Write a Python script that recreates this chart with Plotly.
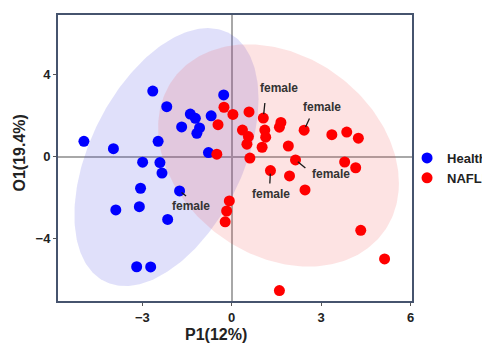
import numpy as np
import plotly.graph_objects as go

# ---------------- data ----------------
health_p1 = [-2.65, -0.27, -2.18, -1.39, -1.22, -0.69, -1.68, -1.08, -1.17, -4.96,
             -3.97, -2.47, -0.78, -2.99, -2.41, -2.34, -3.06, -1.75, -3.89, -3.10,
             -2.15, -3.19, -2.72]
health_o1 = [3.20, 3.01, 2.44, 2.08, 1.87, 1.99, 1.45, 1.40, 1.14, 0.75,
             0.39, 0.75, 0.20, -0.27, -0.29, -0.80, -1.54, -1.67, -2.60, -2.44,
             -3.06, -5.37, -5.38]

nafld_p1 = [-0.26, 0.04, 0.58, 1.06, -0.46, 0.36, 0.56, 0.51, 1.11, 1.14,
            1.02, 1.65, 1.60, 2.43, 1.90, 3.36, 3.86, 4.25, -0.50, 0.61,
            2.14, 3.79, 4.16, 1.30, 1.94, 2.46, -0.08, -0.17, -0.22, 4.33,
            5.13, 1.60]
nafld_o1 = [2.41, 2.06, 2.18, 1.88, 1.56, 1.30, 0.98, 0.61, 1.30, 0.95,
            0.46, 1.67, 1.44, 1.29, 0.52, 1.07, 1.20, 0.90, 0.12, -0.07,
            -0.16, -0.26, -0.54, -0.68, -0.94, -1.62, -2.16, -2.65, -3.18, -3.59,
            -4.99, -6.53]

group_names = ["Health", "NAFLD"]
x_ticks = [-3, 0, 3, 6]
y_ticks = [-4, 0, 4]
x_title = "P1(12%)"
y_title = "O1(19.4%)"
note_text = "female"

# samples labelled "female": (group, index) with (line tail dx, dy, standoff, text dx, dy) in px
female_notes = [
    ("Health", 17, 8, 6.3, 2.5, 11.4, -15.3),
    ("NAFLD", 3, 1.7, -16.6, 4, 16, 30.6),
    ("NAFLD", 13, 6, -13.3, 3.5, 17.7, 23.3),
    ("NAFLD", 20, 11.4, 9.3, 3, 35.7, -14.3),
    ("NAFLD", 23, -0.7, 14.3, 3, 0.3, -23.6),
]

# confidence ellipses: centre, half extents, and phase (cos) of the tilt
blue_ellipse = dict(cx=-2.19, cy=-0.02, hx=3.09, hy=6.29, k=0.45)
red_ellipse = dict(cx=1.57, cy=0.06, hx=4.04, hy=5.42, k=-0.25)


def ellipse_xy(cx, cy, hx, hy, k, n=240):
    t = np.linspace(0, 2 * np.pi, n)
    phi = np.arccos(k)
    return cx + hx * np.cos(t), cy + hy * np.cos(t - phi)


fig = go.Figure()

bx, by = ellipse_xy(**blue_ellipse)
fig.add_trace(go.Scatter(x=bx, y=by, mode="lines", fill="toself",
                         fillcolor="rgba(48,48,222,0.15)", line=dict(width=0),
                         hoverinfo="skip", showlegend=False))
rx, ry = ellipse_xy(**red_ellipse)
fig.add_trace(go.Scatter(x=rx, y=ry, mode="lines", fill="toself",
                         fillcolor="rgba(242,68,68,0.15)", line=dict(width=0),
                         hoverinfo="skip", showlegend=False))

fig.add_trace(go.Scatter(x=health_p1, y=health_o1, mode="markers", name=group_names[0],
                         marker=dict(color="#0000ff", size=11, line=dict(width=0))))
fig.add_trace(go.Scatter(x=nafld_p1, y=nafld_o1, mode="markers", name=group_names[1],
                         marker=dict(color="#ff0000", size=11, line=dict(width=0))))

FONT = "Liberation Sans, Arial, sans-serif"
annotations = []
for grp, idx, tdx, tdy, stand, lx, ly in female_notes:
    if grp == "Health":
        px, py = health_p1[idx], health_o1[idx]
    else:
        px, py = nafld_p1[idx], nafld_o1[idx]
    annotations.append(dict(x=px, y=py, xref="x", yref="y", text="", showarrow=True,
                            arrowhead=0, arrowwidth=1.3, arrowcolor="#1a1a1a",
                            ax=tdx, ay=tdy, standoff=stand))
    annotations.append(dict(x=px, y=py, xref="x", yref="y", text=note_text, showarrow=False,
                            xshift=lx, yshift=ly, xanchor="center", yanchor="middle",
                            font=dict(family=FONT, size=12, color="#333333", weight="bold")))

annotations.append(dict(x=0.446, y=-0.118, xref="paper", yref="paper", text=x_title,
                        showarrow=False, xanchor="center", yanchor="middle",
                        font=dict(family=FONT, size=16, color="#222222", weight="bold")))
annotations.append(dict(x=-0.110, y=0.516, xref="paper", yref="paper", text=y_title,
                        showarrow=False, xanchor="center", yanchor="middle", textangle=-90,
                        font=dict(family=FONT, size=16, color="#222222", weight="bold")))

axis_common = dict(showgrid=False, zeroline=True, zerolinecolor="#a8a8a8", zerolinewidth=1.5,
                   showline=True, linecolor="#46546e", linewidth=2, mirror=True,
                   ticks="outside", ticklen=3, tickcolor="#555555", tickwidth=1,
                   tickfont=dict(family=FONT, size=13, color="#222222", weight="bold"))

# the page body adds an 8px offset, so the figure is sized 8px smaller
fig.update_layout(
    width=482, height=336,
    margin=dict(l=50, r=78, t=7, b=43, autoexpand=False),
    paper_bgcolor="white", plot_bgcolor="white",
    xaxis=dict(range=[-5.83, 6.05], tickvals=x_ticks, **axis_common),
    yaxis=dict(range=[-7.04, 6.91], tickvals=y_ticks, **axis_common),
    legend=dict(x=0.986, y=0.465, xanchor="left", yanchor="middle",
                font=dict(family=FONT, size=13, color="#222222", weight="bold"),
                bgcolor="rgba(0,0,0,0)", borderwidth=0, itemwidth=30),
    annotations=annotations,
    showlegend=True,
)

fig.write_html("out.html")
